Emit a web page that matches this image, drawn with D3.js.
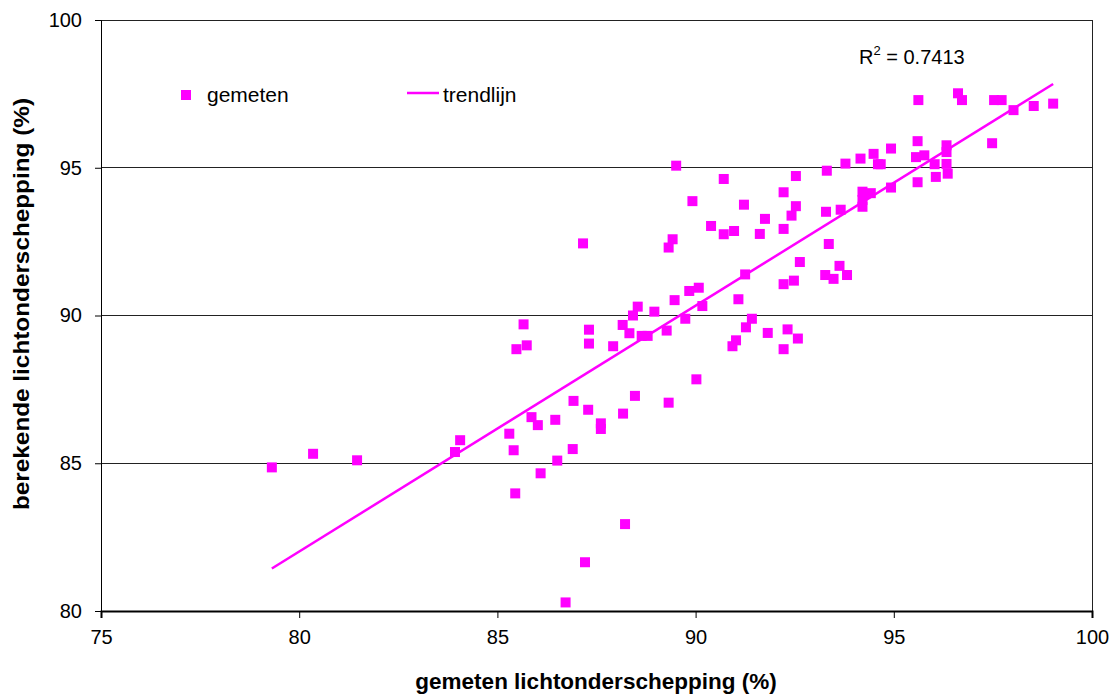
<!DOCTYPE html>
<html>
<head>
<meta charset="utf-8">
<script src="https://cdn.jsdelivr.net/npm/d3@7"></script>
<style>
  body { margin: 0; background: #fff; }
  svg text { font-family: "Liberation Sans", Arial, sans-serif; fill: #000; }
</style>
</head>
<body>
<div class="scatter-chart"></div>
<script>
// gemeten (x) vs berekende (y) lichtonderschepping
const gemeten = [
  79.31, 80.35, 81.46, 83.93, 84.06, 85.30, 85.41, 85.45, 85.86, 86.02,
  86.09, 86.46, 86.51, 86.90, 86.92, 87.29, 87.61, 87.61, 88.17, 88.22,
  87.21, 86.72, 88.47, 89.32, 85.66, 85.48, 85.74, 87.31, 87.31, 87.92,
  88.16, 88.33, 88.42, 88.54, 88.64, 88.79, 88.96, 89.27, 89.47, 89.74,
  89.84, 90.08, 90.17, 91.08, 91.42, 91.27, 91.02, 90.93, 91.82, 92.32,
  92.58, 92.22, 90.02, 89.32, 92.63, 91.25, 92.22, 92.48, 93.27, 93.63,
  93.48, 93.82, 87.16, 89.42, 89.51, 90.71, 89.92, 91.22, 90.39, 90.71,
  90.97, 91.62, 91.75, 92.22, 92.42, 92.53, 92.22, 92.53, 93.31, 93.36,
  93.29, 93.66, 94.21, 94.42, 94.21, 94.21, 93.78, 94.16, 94.49, 94.60,
  94.67, 94.93, 94.93, 95.60, 95.56, 95.77, 96.03, 96.33, 96.33, 96.33,
  96.06, 96.36, 95.60, 95.62, 96.62, 96.72, 97.53, 97.72, 98.02, 98.53,
  99.02, 97.48
];
const berekend = [
  84.86, 85.32, 85.10, 85.38, 85.78, 86.00, 85.44, 83.98, 86.56, 86.29,
  84.66, 86.47, 85.09, 85.48, 87.11, 86.81, 86.35, 86.16, 86.68, 82.94,
  81.65, 80.29, 87.28, 87.05, 89.70, 88.86, 88.99, 89.52, 89.05, 88.96,
  89.68, 89.40, 90.00, 90.30, 89.31, 89.31, 90.13, 89.49, 90.52, 89.89,
  90.83, 90.94, 90.32, 90.55, 89.89, 89.60, 89.16, 88.96, 89.41, 89.53,
  89.22, 88.86, 87.84, 92.30, 91.81, 91.39, 91.06, 91.18, 91.37, 91.68,
  91.24, 91.37, 92.44, 92.58, 95.07, 94.62, 93.87, 93.75, 93.03, 92.75,
  92.86, 92.76, 93.27, 92.93, 93.38, 93.70, 94.17, 94.72, 94.90, 92.42,
  93.51, 93.58, 94.19, 94.14, 93.91, 93.68, 95.14, 95.31, 95.47, 95.12,
  95.12, 95.65, 94.33, 95.90, 95.36, 95.42, 95.12, 95.76, 95.53, 95.13,
  94.69, 94.80, 94.51, 97.29, 97.52, 97.29, 97.29, 97.29, 96.95, 97.09,
  97.17, 95.83
];
const xTicks = [75, 80, 85, 90, 95, 100];
const yTicks = [80, 85, 90, 95, 100];
const legendLabels = ['gemeten', 'trendlijn'];
const rSquared = '0.7413';

const width = 1115, height = 697;
const margin = {top: 20, right: 23, bottom: 86, left: 101};
const magenta = '#ff00ff';

const svg = d3.select('.scatter-chart')
  .append('svg')
  .attr('width', width)
  .attr('height', height);

const x = d3.scaleLinear().domain([75, 100]).range([margin.left, width - margin.right]);
const y = d3.scaleLinear().domain([80, 100]).range([height - margin.bottom, margin.top]);

// horizontal grid lines
svg.append('g')
  .selectAll('line')
  .data(yTicks.filter(d => d > 80))
  .enter().append('line')
  .attr('x1', x(75)).attr('x2', x(100))
  .attr('y1', d => y(d)).attr('y2', d => y(d))
  .attr('stroke', '#222')
  .attr('stroke-width', 1)
  .attr('shape-rendering', 'crispEdges');

// right border
svg.append('line')
  .attr('x1', x(100)).attr('x2', x(100))
  .attr('y1', y(100)).attr('y2', y(80))
  .attr('stroke', '#222')
  .attr('shape-rendering', 'crispEdges');

const xAxis = svg.append('g')
  .attr('transform', 'translate(0,' + y(80) + ')')
  .call(d3.axisBottom(x).tickValues(xTicks).tickSize(7).tickPadding(12).tickFormat(d3.format('d')));
xAxis.select('.domain').attr('stroke', '#000').attr('stroke-width', 2);
xAxis.selectAll('.tick line').attr('stroke', '#000');
xAxis.selectAll('text').style('font-size', '20px').attr('fill', '#000');

const yAxis = svg.append('g')
  .attr('transform', 'translate(' + x(75) + ',0)')
  .call(d3.axisLeft(y).tickValues(yTicks).tickSize(6).tickPadding(13).tickFormat(d3.format('d')));
yAxis.select('.domain').attr('stroke', '#000');
yAxis.selectAll('.tick line').attr('stroke', '#000');
yAxis.selectAll('text').style('font-size', '20px').attr('fill', '#000');

// least-squares trendline through the measured points
const n = gemeten.length;
const mx = d3.mean(gemeten), my = d3.mean(berekend);
let sxy = 0, sxx = 0;
for (let i = 0; i < n; i++) {
  sxy += (gemeten[i] - mx) * (berekend[i] - my);
  sxx += (gemeten[i] - mx) * (gemeten[i] - mx);
}
const slope = sxy / sxx;
const intercept = my - slope * mx;
const xExtent = d3.extent(gemeten);

svg.append('line')
  .attr('x1', x(xExtent[0])).attr('y1', y(intercept + slope * xExtent[0]))
  .attr('x2', x(xExtent[1])).attr('y2', y(intercept + slope * xExtent[1]))
  .attr('stroke', magenta)
  .attr('stroke-width', 2.5);

const pts = gemeten.map((g, i) => ({g: g, b: berekend[i]}));
const size = 10;
svg.append('g')
  .selectAll('rect')
  .data(pts)
  .enter().append('rect')
  .attr('x', d => x(d.g) - size / 2)
  .attr('y', d => y(d.b) - size / 2)
  .attr('width', size)
  .attr('height', size)
  .attr('fill', magenta);

// legend
svg.append('rect')
  .attr('x', 181).attr('y', 90).attr('width', size).attr('height', size)
  .attr('fill', magenta);
svg.append('text')
  .attr('x', 207).attr('y', 102)
  .style('font-size', '21px')
  .text(legendLabels[0]);
svg.append('line')
  .attr('x1', 407).attr('x2', 439).attr('y1', 93).attr('y2', 93)
  .attr('stroke', magenta).attr('stroke-width', 2.5);
svg.append('text')
  .attr('x', 443).attr('y', 102)
  .style('font-size', '21px')
  .text(legendLabels[1]);

// R squared label
const rText = svg.append('text')
  .attr('x', 859).attr('y', 64)
  .style('font-size', '20px');
rText.append('tspan').text('R');
rText.append('tspan').attr('dy', -9).style('font-size', '13px').text('2');
rText.append('tspan').attr('dy', 9).text(' = ' + rSquared);

// axis titles
svg.append('text')
  .attr('x', 596).attr('y', 689)
  .attr('text-anchor', 'middle')
  .style('font-size', '22.5px')
  .style('font-weight', 'bold')
  .text('gemeten lichtonderschepping (%)');

svg.append('text')
  .attr('transform', 'translate(29,304) rotate(-90)')
  .attr('text-anchor', 'middle')
  .style('font-size', '22.5px')
  .style('font-weight', 'bold')
  .attr('textLength', 412)
  .attr('lengthAdjust', 'spacingAndGlyphs')
  .text('berekende lichtonderschepping (%)');
</script>
</body>
</html>
